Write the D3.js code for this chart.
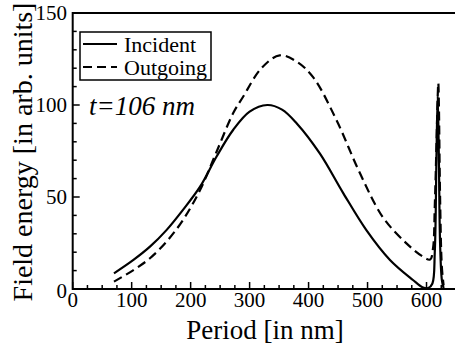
<!DOCTYPE html>
<html><head><meta charset="utf-8">
<script src="https://cdn.jsdelivr.net/npm/d3@7"></script>
<style>body{margin:0;background:#fff}svg{display:block}</style>
</head><body>
<script>
const incPeriod = [70, 103, 131, 159, 187, 216, 244, 272, 300, 330, 355, 380, 419, 459, 498, 538, 577, 593, 603, 610, 614, 617, 619, 621, 623, 626, 629];
const incValue  = [8.5, 15.8, 23, 32, 43, 55.6, 72, 86.4, 96.4, 100, 97.5, 90, 73.7, 52, 32, 15.8, 4.9, 1, 0.5, 3, 20, 75, 105, 70, 25, 5, 0.5];
const outPeriod = [70, 103, 131, 159, 187, 216, 244, 272, 289, 320, 351, 380, 408, 447, 487, 526, 566, 592, 606, 611, 614, 617, 619, 620, 621, 623, 626, 629];
const outValue  = [4, 10.3, 16.7, 25.7, 37.5, 53.8, 74.6, 95.5, 104.5, 120, 127, 123.5, 115, 92, 63, 39, 24.8, 18, 16, 22, 45, 80, 105, 112, 100, 50, 12, 2];
const xTicks = [0, 100, 200, 300, 400, 500, 600];
const yTicks = [0, 50, 100, 150];
const seriesNames = ["Incident", "Outgoing"];

const W = 455, H = 347;
const FONT = '"Liberation Serif"';
const svg = d3.select("body").append("svg").attr("width", W).attr("height", H);
const x = d3.scaleLinear().domain([0, 650]).range([72.7, 456]);
const y = d3.scaleLinear().domain([0, 150]).range([289, 13]);

// frame
svg.append("rect").attr("x", x(0)).attr("y", y(150)).attr("width", x(650) - x(0)).attr("height", y(0) - y(150))
  .attr("fill", "none").attr("stroke", "#000").attr("stroke-width", 2);

// x ticks (inward)
const xMinor = d3.range(0, 651, 25);
svg.append("g").selectAll("line").data(xMinor).join("line")
  .attr("x1", d => x(d)).attr("x2", d => x(d))
  .attr("y1", y(0)).attr("y2", d => y(0) - (d % 100 === 0 ? 7 : 4))
  .attr("stroke", "#000").attr("stroke-width", 1.5);
svg.append("g").selectAll("text").data(xTicks).join("text")
  .attr("x", d => x(d)).attr("y", 307).attr("text-anchor", "middle")
  .style("font-family", FONT).attr("font-size", 21).text(d => d);

// y ticks
const yMinor = d3.range(0, 151, 10);
svg.append("g").selectAll("line").data(yMinor).join("line")
  .attr("x1", x(0)).attr("x2", d => x(0) + (d % 50 === 0 ? 7 : 4))
  .attr("y1", d => y(d)).attr("y2", d => y(d))
  .attr("stroke", "#000").attr("stroke-width", 1.5);
svg.append("g").selectAll("text").data(yTicks).join("text")
  .attr("x", 67).attr("y", d => d === 0 ? 298 : y(d) + 7).attr("text-anchor", "end")
  .style("font-family", FONT).attr("font-size", 21).text(d => d);

// axis titles
svg.append("text").attr("x", 265).attr("y", 339).attr("text-anchor", "middle")
  .style("font-family", FONT).attr("font-size", 27).text("Period [in nm]");
svg.append("text").attr("transform", "translate(32,152) rotate(-90)").attr("text-anchor", "middle")
  .style("font-family", FONT).attr("font-size", 28).text("Field energy [in arb. units]");

// curves
const line = d3.line().x(d => x(d[0])).y(d => y(d[1])).curve(d3.curveCatmullRom.alpha(0.5));
const incData = incPeriod.map((p, i) => [p, incValue[i]]);
const outData = outPeriod.map((p, i) => [p, outValue[i]]);
svg.append("path").datum(outData).attr("d", line).attr("fill", "none")
  .attr("stroke", "#000").attr("stroke-width", 2.2).attr("stroke-dasharray", "9,5");
svg.append("path").datum(incData).attr("d", line).attr("fill", "none")
  .attr("stroke", "#000").attr("stroke-width", 2.2);

// legend
const lg = svg.append("g");
lg.append("rect").attr("x", 80).attr("y", 32).attr("width", 131).attr("height", 48)
  .attr("fill", "#fff").attr("stroke", "#000").attr("stroke-width", 1.5);
[0, 1].forEach(i => {
  const yy = 44 + i * 23;
  lg.append("line").attr("x1", 83).attr("x2", 117).attr("y1", yy).attr("y2", yy)
    .attr("stroke", "#000").attr("stroke-width", 2.2).attr("stroke-dasharray", i ? "9,5" : null);
  lg.append("text").attr("x", 124).attr("y", yy + 8).style("font-family", FONT).attr("font-size", 22)
    .text(seriesNames[i]);
});

// annotation
svg.append("text").attr("x", 89).attr("y", 115).style("font-family", FONT).attr("font-style", "italic")
  .attr("font-size", 27).text("t=106 nm");
</script>
</body></html>
